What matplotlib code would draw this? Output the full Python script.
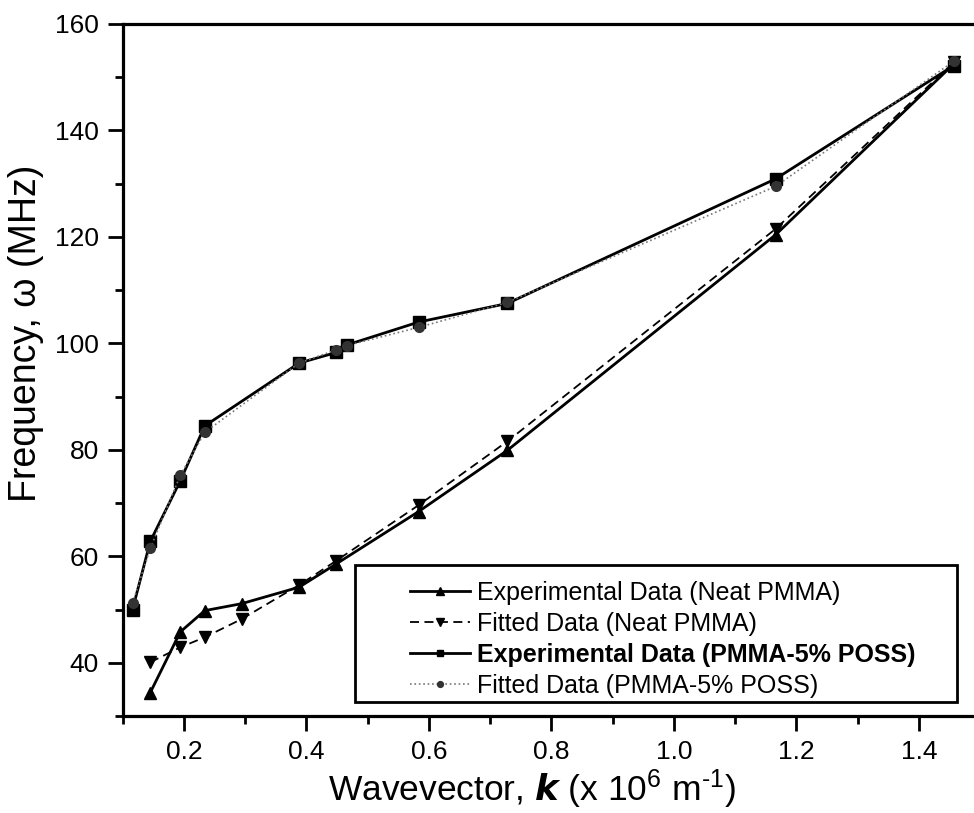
import numpy as np
import matplotlib
matplotlib.use("Agg")
import matplotlib.pyplot as plt
from matplotlib.ticker import MultipleLocator
from matplotlib.patches import Rectangle

plt.rcParams['font.family'] = ['Liberation Sans', 'DejaVu Sans']
plt.rcParams['mathtext.fontset'] = 'custom'
plt.rcParams['mathtext.rm'] = 'Liberation Sans'
plt.rcParams['mathtext.bf'] = 'Liberation Sans:bold'
plt.rcParams['mathtext.it'] = 'Liberation Sans:italic'

# 데이터
k_neat = [0.145, 0.194, 0.234, 0.294, 0.388, 0.449, 0.583, 0.728, 1.166, 1.457]
exp_neat = [34.4, 45.8, 49.8, 51.1, 54.2, 58.6, 68.4, 79.9, 120.4, 152.5]
fit_neat = [40.1, 42.9, 44.8, 48.2, 54.6, 59.2, 69.6, 81.6, 121.5, 152.8]

k_poss = [0.116, 0.145, 0.194, 0.234, 0.388, 0.449, 0.466, 0.583, 0.728, 1.166, 1.457]
exp_poss = [50.0, 62.8, 74.2, 84.5, 96.3, 98.3, 99.7, 104.0, 107.5, 130.9, 152.2]
fit_poss = [51.2, 61.5, 75.2, 83.3, 96.3, 98.8, 99.6, 103.0, 107.7, 129.5, 153.0]

labels = ['Experimental Data (Neat PMMA)', 'Fitted Data (Neat PMMA)',
          'Experimental Data (PMMA-5% POSS)', 'Fitted Data (PMMA-5% POSS)']

fig = plt.figure(figsize=(9.74, 8.13), dpi=100)
ax = fig.add_axes([0.126, 0.1193, 0.874, 0.8512])

ax.plot(k_neat, exp_neat, '-', color='black', lw=2.0, marker='^', ms=9, label=labels[0])
ax.plot(k_neat, fit_neat, '--', color='black', lw=1.3, marker='v', ms=9,
        dashes=(5, 3), label=labels[1])
ax.plot(k_poss, exp_poss, '-', color='black', lw=2.0, marker='s', ms=8, label=labels[2])
ax.plot(k_poss, fit_poss, ':', color='#777777', lw=1.2, marker='o', ms=7,
        mfc='#333333', mec='#333333', label=labels[3])

ax.set_xlim(0.1, 1.49)
ax.set_ylim(30, 160)
ax.xaxis.set_minor_locator(MultipleLocator(0.1))
ax.yaxis.set_minor_locator(MultipleLocator(10))
ax.set_xticks(np.arange(0.2, 1.41, 0.2))
ax.set_xticklabels(['0.2', '0.4', '0.6', '0.8', '1.0', '1.2', '1.4'])
ax.set_yticks(np.arange(40, 161, 20))

for s in ['left', 'bottom', 'top']:
    ax.spines[s].set_linewidth(2.3)
ax.spines['right'].set_visible(False)

ax.tick_params(which='major', direction='out', length=11, width=2, labelsize=19, pad=6)
ax.tick_params(which='minor', direction='out', length=6, width=2)
ax.tick_params(top=False, right=False, which='both')

ax.set_xlabel(r'Wavevector, $\boldsymbol{k}$ (x 10$^{6}$ m$^{\text{-1}}$)', fontsize=25.5)
ax.set_ylabel('Frequency, ω (MHz)', fontsize=27)
ax.xaxis.set_label_coords(0.481, -0.074)
ax.yaxis.set_label_coords(-0.092, 0.553)

# 범례 테두리 (Origin 스타일, 왼쪽 여백 넓음)
ax.add_patch(Rectangle((0.273, 0.02), 0.707, 0.198, transform=ax.transAxes,
                       facecolor='white', edgecolor='black', lw=2.0, zorder=4))
leg = ax.legend(loc='upper left', bbox_to_anchor=(0.3375, 0.195), fontsize=18,
                frameon=False, handlelength=2.4, handletextpad=0.28,
                labelspacing=0.28, borderpad=0, borderaxespad=0, markerscale=0.6)
leg.set_zorder(5)
leg.get_texts()[2].set_fontweight('bold')

fig.savefig('out.png', dpi=100)
